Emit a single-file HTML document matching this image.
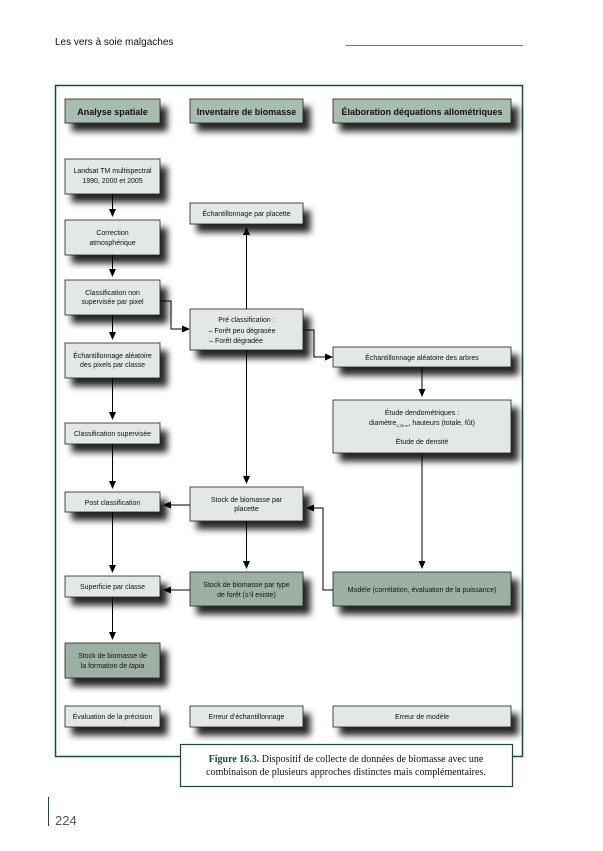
<!DOCTYPE html>
<html><head><meta charset="utf-8"><style>
html,body{margin:0;padding:0;background:#fff;}
svg{display:block;}
text{font-family:"Liberation Sans",sans-serif;fill:#111;}
</style></head><body>
<svg width="603" height="851" viewBox="0 0 603 851" xmlns="http://www.w3.org/2000/svg">
<defs>
<filter id="sh" x="-20%" y="-30%" width="150%" height="190%">
<feOffset in="SourceAlpha" dx="7" dy="8" result="o"/>
<feGaussianBlur in="o" stdDeviation="3.5" result="b"/>
<feComponentTransfer in="b" result="c"><feFuncA type="linear" slope="0.85"/></feComponentTransfer>
<feMerge><feMergeNode in="c"/><feMergeNode in="SourceGraphic"/></feMerge>
</filter>
<marker id="ar" markerWidth="8" markerHeight="8" refX="7" refY="4" orient="auto" markerUnits="userSpaceOnUse">
<path d="M0,0.5 L8,4 L0,7.5 Z" fill="#000"/>
</marker>
</defs>
<text x="55" y="45" font-size="10">Les vers à soie malgaches</text>
<line x1="346" y1="45.5" x2="523" y2="45.5" stroke="#444" stroke-width="0.8"/>
<rect x="55.5" y="85.5" width="467" height="671" fill="none" stroke="#1d4a3e" stroke-width="1.5"/>

<g filter="url(#sh)" stroke="#222" stroke-width="0.8">
<rect x="65" y="99" width="95" height="24" fill="#a9bcb2"/>
<rect x="190" y="99" width="113" height="24" fill="#a9bcb2"/>
<rect x="333" y="99" width="178" height="24" fill="#a9bcb2"/>
<rect x="65" y="159" width="95" height="35" fill="#e3e8e4"/>
<rect x="65" y="220" width="95" height="35" fill="#e3e8e4"/>
<rect x="65" y="280" width="95" height="35" fill="#e3e8e4"/>
<rect x="65" y="343" width="95" height="35" fill="#e3e8e4"/>
<rect x="65" y="423" width="95" height="21" fill="#e3e8e4"/>
<rect x="65" y="492" width="95" height="20" fill="#e3e8e4"/>
<rect x="65" y="576" width="95" height="21" fill="#e3e8e4"/>
<rect x="65" y="643" width="95" height="35" fill="#9db0a6"/>
<rect x="65" y="706" width="95" height="21" fill="#e3e8e4"/>
<rect x="190" y="203" width="113" height="21" fill="#e3e8e4"/>
<rect x="190" y="309" width="113" height="41" fill="#e3e8e4"/>
<rect x="190" y="487" width="113" height="34" fill="#e3e8e4"/>
<rect x="190" y="572" width="113" height="34" fill="#9db0a6"/>
<rect x="190" y="706" width="113" height="21" fill="#e3e8e4"/>
<rect x="333" y="347" width="178" height="20" fill="#e3e8e4"/>
<rect x="333" y="400" width="178" height="53" fill="#e3e8e4"/>
<rect x="333" y="572" width="178" height="34" fill="#9db0a6"/>
<rect x="333" y="706" width="178" height="21" fill="#e3e8e4"/>
</g>

<g font-size="9" font-weight="bold" text-anchor="middle">
<text x="112.5" y="115">Analyse spatiale</text>
<text x="246.5" y="115">Inventaire de biomasse</text>
<text x="422" y="115">Élaboration déquations allométriques</text>
</g>
<g font-size="7" text-anchor="middle">
<text x="112.5" y="173">Landsat TM multispectral</text>
<text x="112.5" y="183">1990, 2000 et 2005</text>
<text x="112.5" y="235">Correction</text>
<text x="112.5" y="245">atmosphérique</text>
<text x="112.5" y="295">Classification non</text>
<text x="112.5" y="304">supervisée par pixel</text>
<text x="112.5" y="358">Échantillonnage aléatoire</text>
<text x="112.5" y="367">des pixels par classe</text>
<text x="112.5" y="436">Classification supervisée</text>
<text x="112.5" y="505">Post classification</text>
<text x="112.5" y="589">Superficie par classe</text>
<text x="112.5" y="658">Stock de biomasse de</text>
<text x="112.5" y="668">la formation de <tspan font-style="italic">tapia</tspan></text>
<text x="112.5" y="719">Évaluation de la précision</text>
<text x="246.5" y="216">Échantillonnage par placette</text>
<text x="246.5" y="322">Pré classification :</text>
<text x="242" y="333">– Forêt peu dégrasée</text>
<text x="236" y="343">– Forêt dégradée</text>
<text x="246.5" y="502">Stock de biomasse par</text>
<text x="246.5" y="511">placette</text>
<text x="246.5" y="587">Stock de biomasse par type</text>
<text x="246.5" y="597">de forêt (s’il existe)</text>
<text x="246.5" y="719">Erreur d’échantillonnage</text>
<text x="422" y="360">Échantillonnage aléatoire des arbres</text>
<text x="422" y="415">Étude dendométriques :</text>
<text x="422" y="425">diamètre<tspan font-size="4" dy="2">1,30 m</tspan><tspan dy="-2">, hauteurs (totale, fût)</tspan></text>
<text x="422" y="444">Étude de densité</text>
<text x="422" y="592">Modèle (corrélation, évaluation de la puissance)</text>
<text x="422" y="719">Erreur de modèle</text>
</g>

<g stroke="#000" stroke-width="1" fill="none" marker-end="url(#ar)">
<line x1="112.5" y1="194" x2="112.5" y2="216"/>
<line x1="112.5" y1="255" x2="112.5" y2="276"/>
<line x1="112.5" y1="315" x2="112.5" y2="339"/>
<line x1="112.5" y1="378" x2="112.5" y2="419"/>
<line x1="112.5" y1="444" x2="112.5" y2="488"/>
<line x1="112.5" y1="512" x2="112.5" y2="572"/>
<line x1="112.5" y1="597" x2="112.5" y2="639"/>
<polyline points="160,301 171,301 171,329 189,329"/>
<polyline points="303,330 314,330 314,357 332,357"/>
<line x1="246.5" y1="309" x2="246.5" y2="228"/>
<line x1="246.5" y1="350" x2="246.5" y2="483"/>
<line x1="246.5" y1="521" x2="246.5" y2="568"/>
<line x1="190" y1="505" x2="164" y2="505"/>
<line x1="190" y1="590" x2="164" y2="590"/>
<polyline points="333,590 323,590 323,508 307,508"/>
<line x1="422" y1="367" x2="422" y2="396"/>
<line x1="422" y1="455" x2="422" y2="568"/>
</g>

<rect x="180.5" y="744.5" width="332" height="42" fill="#fff" stroke="#1d4a3e" stroke-width="1.2"/>
<text x="346" y="762" font-size="10" text-anchor="middle" style="font-family:'Liberation Serif',serif"><tspan font-weight="bold" fill="#1d4a3e" style="fill:#1d4a3e">Figure 16.3.</tspan> Dispositif de collecte de données de biomasse avec une</text>
<text x="346" y="775" font-size="10" text-anchor="middle" style="font-family:'Liberation Serif',serif">combinaison de plusieurs approches distinctes mais complémentaires.</text>

<line x1="48.5" y1="797" x2="48.5" y2="826" stroke="#1d4a3e" stroke-width="1"/>
<text x="55" y="825" font-size="13" fill="#555" style="fill:#555">224</text>
</svg>
</body></html>
